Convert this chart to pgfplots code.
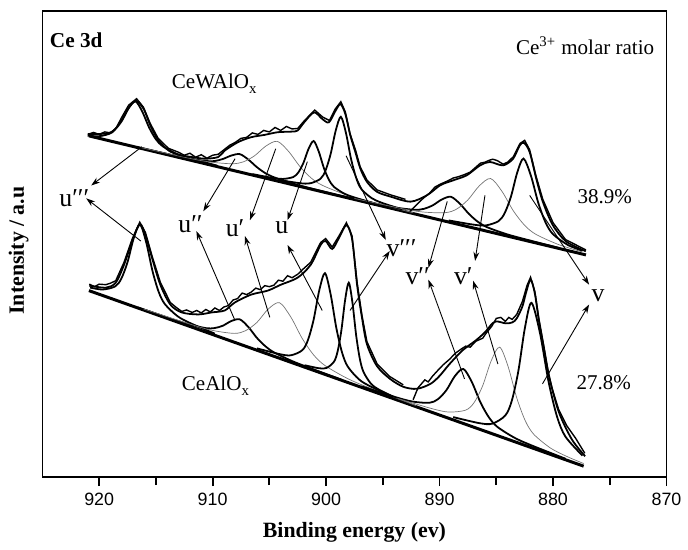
\documentclass[border=0pt]{standalone}
\usepackage{fontspec}
\setmainfont{Liberation Serif}
\setsansfont{Liberation Sans}
\usepackage{pgfplots}
\pgfplotsset{compat=1.18}
\usetikzlibrary{arrows.meta}
\tikzset{
  comp/.style={black, line width=0.9pt, smooth},
  thin/.style={black!55, line width=0.35pt, smooth},
  fit/.style={black, line width=0.9pt, smooth},
  expd/.style={black, line width=0.7pt},
  bgl/.style={black, line width=1.5pt},
  lab/.style={font=\fontsize{13}{13}\selectfont, inner sep=0pt},
  txt/.style={font=\fontsize{10.6}{12}\selectfont, inner sep=0pt},
  arr/.style={-{Stealth[length=4.5pt,width=3pt]}, line width=0.45pt},
}
\begin{document}
\begin{tikzpicture}
\begin{axis}[
  scale only axis, width=314.6pt, height=235pt,
  xmin=870, xmax=925, x dir=reverse,
  ymin=0, ymax=470,
  xtick={870,880,...,920}, minor xtick={875,885,...,915},
  ytick=\empty, xtick pos=bottom,
  tick align=outside,
  major tick length=4.5pt, minor tick length=4pt,
  axis line style={line width=0.9pt},
  every tick/.style={line width=0.9pt, black},
  /pgf/number format/assume math mode=true,
  /pgf/number format/set thousands separator={},
  xticklabel style={font=\sffamily\fontsize{9}{10}\selectfont},
  xlabel={Binding energy (ev)},
  ylabel={Intensity / a.u},
  xlabel style={font=\bfseries\fontsize{11}{12}\selectfont, at={(axis description cs:0.5,-0.119)}, anchor=center},
  ylabel style={font=\bfseries\fontsize{11}{12}\selectfont, at={(axis description cs:-0.038,0.486)}, anchor=center},
  clip=false,
]
\path (axis description cs:-0.068,-0.1426) rectangle (axis description cs:1.0254,1.0234);

% ---------------- upper spectrum: CeWAlOx ----------------
\addplot[bgl] coordinates {(877.1,224) (920.9,344)};
% u'''
\addplot[comp] coordinates {(909.6,314.0)(912.0,321.5)(913.2,326.1)(914.4,333.5)(915.0,340.6)(915.6,352.5)(916.2,368.5)(916.8,378.8)(917.4,371.8)(918.0,359.1)(918.6,350.5)(919.2,346.7)(920.4,345.8)(921.0,346.0)};
% u''
\addplot[comp] coordinates {(898.6,283.2)(901.6,291.8)(903.1,296.5)(904.6,302.3)(905.35,306.4)(906.1,312.5)(906.85,320.1)(907.6,325.6)(908.35,324.2)(909.1,320.7)(909.85,318.6)(910.6,318.7)(912.1,321.2)(913.6,324.7)(916.6,332.5)};
% u'
\addplot[thin] coordinates {(892.3,266.4)(896.3,278.2)(898.3,284.9)(900.3,294.0)(901.3,301.4)(902.3,313.0)(903.3,328.3)(904.3,338.5)(905.3,333.8)(906.3,324.0)(907.3,317.8)(908.3,315.9)(910.3,317.8)(912.3,322.0)(916.3,332.2)};
% u
\addplot[comp] coordinates {(895.7,275.9)(897.5,281.9)(898.4,285.8)(899.3,292.6)(899.75,299.7)(900.2,311.8)(900.65,328.3)(901.1,338.8)(901.55,330.8)(902.0,316.7)(902.45,307.1)(902.9,302.5)(903.8,300.6)(904.7,301.6)(906.5,305.5)};
% v'''
\addplot[comp] coordinates {(893.3,269.9)(895.1,276.6)(896.0,281.4)(896.9,290.5)(897.35,301.7)(897.8,320.7)(898.25,347.0)(898.7,363.2)(899.15,349.4)(899.6,325.7)(900.05,309.1)(900.5,300.7)(901.4,296.2)(902.3,296.3)(904.1,299.5)};
% v''
\addplot[comp] coordinates {(879.4,230.8)(882.6,240.2)(884.2,245.3)(885.8,251.9)(886.6,257.2)(887.4,265.2)(888.2,275.5)(889.0,282.6)(889.8,279.9)(890.6,274.0)(891.4,270.4)(892.2,269.5)(893.8,271.6)(895.4,275.2)(898.6,283.4)};
% v'
\addplot[thin] coordinates {(877.5,227.3)(879.5,234.4)(881.5,244.7)(882.5,253.8)(883.5,268.5)(884.5,288.1)(885.5,301.0)(886.5,293.6)(887.5,279.5)(888.5,270.2)(889.5,266.6)(891.5,267.3)(893.5,271.1)(897.5,280.9)};
% v
\addplot[comp] coordinates {(877.4,228.2)(878.7,234.1)(880.0,244.9)(880.65,256.5)(881.3,276.5)(881.95,303.9)(882.6,321.1)(883.15,307.2)(883.7,283.1)(884.25,266.4)(884.8,258.1)(885.9,253.8)(887.0,254.5)(889.2,258.8)};
% fitted envelope
\addplot[fit] coordinates {(877.11,227.7)(878.86,237.7)(880.03,254.3)(880.90,277.7)(881.48,301)(882.06,327.7)(882.56,337)(882.94,334.3)(883.52,321)(884.40,314.3)(885.56,317.7)(886.43,314.3)(887.60,304.3)(888.77,299.3)(889.93,294.3)(891.09,284.3)(892.55,277.7)(894.30,282.7)(895.52,287.7)(896.40,297.7)(896.98,311)(897.42,327.7)(897.86,344.3)(898.30,366)(898.73,376)(899.17,369.3)(899.75,357.7)(900.33,361)(901.06,367.7)(901.93,357.7)(902.52,349.3)(903.10,348.3)(904.27,347.7)(905.43,345)(906.60,342.7)(907.76,337.7)(908.92,329.3)(909.51,322.7)(910.67,321)(911.84,322.7)(913.01,325)(913.88,329.3)(914.76,339.3)(915.48,354.3)(916.07,371)(916.74,379.3)(917.38,372.7)(917.96,361)(918.84,347.7)(920.00,343.7)(921.02,344.3)};
% measured data
\addplot[expd] coordinates {(877.1,229)(878.9,239.5)(880.0,256.5)(880.9,280)(881.5,303.5)(882.06,330)(882.5,339.5)(882.9,336.5)(883.5,323)(884.0,317.5)(884.4,315.5)(884.9,319)(885.3,320.5)(885.6,319.5)(886.0,317.5)(886.4,316.5)(886.9,311.5)(887.3,307.5)(887.8,305)(888.3,303)(888.8,301.5)(889.3,298.5)(889.9,295.5)(890.4,292.5)(890.9,286)(891.4,281.5)(891.9,276)(892.6,268)};
\addplot[expd] coordinates {(893.0,280)(894.3,284.5)(895.5,289.5)(896.4,299.5)(897.0,313)(897.4,329.5)(897.9,346.5)(898.3,368)(898.7,378.5)(899.2,371)(899.7,359.5)(900.3,363)(901.0,370)(901.9,359.5)(902.5,351.5)(903.0,351)(903.5,353.5)(904.0,349.5)(904.5,352.5)(905.0,348)(905.5,349.5)(906.0,345.5)(906.5,347)(907.0,342.5)(907.5,341.5)(908.0,337.5)(908.5,334.5)(909.0,330)(909.5,325.5)(910.0,324.5)(910.5,321.5)(911.0,325)(911.5,322.5)(912.0,326.5)(912.5,324.5)(913.0,327.5)(913.9,331.5)(914.8,341.5)(915.5,356.5)(916.1,373)(916.7,381.5)(917.4,375)(918.0,363)(918.5,352)(919.0,347)(919.5,348)(920.0,345.5)(920.5,347.5)(921.0,345.5)};

% ---------------- lower spectrum: CeAlOx ----------------
\addplot[bgl] coordinates {(877.3,11) (920.9,188)};
% u'''
\addplot[comp] coordinates {(909.8,144.6)(912.0,155.4)(913.1,162.3)(914.2,174.3)(914.75,186.6)(915.3,207.8)(915.85,236.5)(916.4,254.7)(916.95,241.0)(917.5,216.7)(918.05,200.0)(918.6,192.2)(919.7,189.1)(920.8,191.1)};
% u''
\addplot[comp] coordinates {(898.6,98.0)(901.6,110.7)(903.1,117.5)(904.6,125.8)(905.35,131.9)(906.1,140.4)(906.85,151.3)(907.6,159.0)(908.35,157.4)(909.1,152.6)(909.85,150.2)(910.6,150.2)(912.1,154.1)(913.6,159.4)(916.6,171.1)};
% u'
\addplot[thin] coordinates {(892.1,72.2)(896.1,89.6)(898.1,99.3)(900.1,112.5)(901.1,123.2)(902.1,139.7)(903.1,161.2)(904.1,175.8)(905.1,169.4)(906.1,155.9)(907.1,147.6)(908.1,144.9)(910.1,148.1)(912.1,154.6)(916.1,169.6)};
% u
\addplot[comp] coordinates {(894.1,81.1)(896.1,91.5)(897.1,98.5)(898.1,111.6)(898.6,125.9)(899.1,150.5)(899.6,184.3)(900.1,205.6)(900.6,188.4)(901.1,158.6)(901.6,138.1)(902.1,127.9)(903.1,122.8)(904.1,124.0)(906.1,129.8)};
% v'''
\addplot[comp] coordinates {(894.1,81.1)(895.4,88.6)(896.05,94.2)(896.7,105.9)(897.025,119.2)(897.35,142.9)(897.675,175.7)(898.0,196.0)(898.325,178.4)(898.65,148.2)(898.975,127.1)(899.3,116.4)(899.95,110.1)(900.6,109.7)(901.9,112.8)};
% v''
\addplot[comp] coordinates {(878.9,18.5)(881.9,32.0)(883.4,39.7)(884.9,50.6)(885.65,60.2)(886.4,75.4)(887.15,95.7)(887.9,109.0)(888.65,101.8)(889.4,87.6)(890.15,78.5)(890.9,74.9)(892.4,76.2)(893.9,80.7)(896.9,91.6)};
% v'
\addplot[thin] coordinates {(877.3,13.7)(878.7,20.4)(880.2,29.1)(881.7,43.2)(882.45,56.9)(883.2,80.0)(883.95,111.1)(884.7,131.0)(885.45,117.2)(886.2,92.1)(886.95,75.2)(887.7,67.5)(889.2,65.6)(890.7,69.1)(893.7,79.3)};
% v
\addplot[comp] coordinates {(877.4,21.6)(878.9,40.7)(879.65,61.1)(880.4,96.6)(881.15,145.2)(881.9,175.7)(882.475,150.6)(883.05,107.3)(883.625,77.3)(884.2,62.2)(885.35,53.9)(886.5,54.4)(888.8,60.5)};
% fitted envelope
\addplot[fit] coordinates {(877.17,21)(878.34,38)(879.5,66)(880.38,103)(880.81,130)(881.25,158)(881.6,185)(881.98,199)(882.4,185)(882.70,172)(883.2,160)(883.58,156)(884.16,155)(885.03,157)(885.5,153)(885.91,147)(886.78,138)(887.95,128)(889.12,114)(890.0,102)(890.8,94)(892.0,89)(893.19,91)(894.36,99)(895.52,112)(896.40,134)(896.84,161)(897.27,194)(897.71,240)(898.21,254)(898.87,241)(899.46,230)(900.04,238)(900.48,234)(901.36,214)(902.52,201)(903.98,194)(905.14,188)(906.60,184)(908.05,176)(908.93,168)(910.10,166)(911.26,164)(912.72,166)(913.73,174)(914.61,194)(915.34,221)(915.92,244)(916.42,255)(917.09,238)(917.81,214)(918.54,196)(919.41,191)(920.87,193)};
% measured data
\addplot[expd] coordinates {(877.2,24)(878.0,39)(878.8,52)(879.5,68)(880.1,90)(880.4,105)(880.8,131.5)(881.25,160)(881.6,187)(881.98,201.5)(882.3,193)(882.7,177)(883.2,164)(883.6,159)(883.9,161)(884.2,157)(884.6,161)(885.0,160)(885.4,152)(885.9,145)(886.2,140)(886.8,137)(887.3,131)(887.7,132)(888.1,129)(888.6,125)(889.1,119)(889.7,113)(890.2,107)(890.6,102)(891.0,96)(891.3,98)(891.9,90)(892.33,78)};
\addplot[expd] coordinates {(893.2,93)(894.4,101.5)(895.5,114)(896.4,136.5)(896.84,163)(897.27,196.5)(897.71,243)(898.21,256.5)(898.87,243)(899.46,232)(900.04,240.5)(900.48,236.5)(901.36,216.5)(902.0,210)(902.5,204.5)(903.0,201)(903.4,203)(903.8,197.5)(904.2,198.5)(904.6,193.5)(905.0,192)(905.4,193)(905.8,189)(906.2,190.5)(906.6,186.5)(907.0,184)(907.4,185.5)(907.8,180)(908.2,178.5)(908.6,173)(909.0,171.5)(909.4,168)(909.8,170.5)(910.2,166.5)(910.6,169)(911.0,165.5)(911.4,168)(911.8,166)(912.3,168.5)(912.72,167)(913.2,171)(913.73,176)(914.61,196.5)(915.34,223)(915.92,246.5)(916.42,257)(917.09,240)(917.81,216.5)(918.54,198)(919.0,195.5)(919.41,194)(920.0,194.5)(920.4,192)(920.87,194.5)};

% ---------------- annotations ----------------
\node[anchor=west, inner sep=0pt, font=\bfseries\fontsize{10.7}{12}\selectfont] at (axis cs:924.37,440.5) {Ce 3d};
\node[txt] at (axis cs:877.17,434.5) {Ce\textsuperscript{3+} molar ratio};
\node[txt, anchor=base west] at (axis cs:913.62,392) {CeWAlO\raisebox{-0.5ex}{\fontsize{7.5}{8}\selectfont x}};
\node[txt, anchor=base west] at (axis cs:912.74,87) {CeAlO\raisebox{-0.5ex}{\fontsize{7.5}{8}\selectfont x}};
\node[txt, anchor=base west] at (axis cs:877.87,276) {38.9\%};
\node[txt, anchor=base west] at (axis cs:877.96,88) {27.8\%};

\node[lab] at (axis cs:922.19,281) {u′′′};
\node[lab] at (axis cs:911.95,255) {u′′};
\node[lab] at (axis cs:908.02,251) {u′};
\node[lab] at (axis cs:903.90,251) {u};
\node[lab] at (axis cs:893.35,231) {v′′′};
\node[lab] at (axis cs:891.93,203) {v′′};
\node[lab] at (axis cs:887.91,203) {v′};
\node[lab] at (axis cs:876.03,183) {v};

\draw[arr] (axis cs:916.24,333) -- (axis cs:920.70,294);
\draw[arr] (axis cs:916.33,238) -- (axis cs:921.14,281);
\draw[arr] (axis cs:908.02,321) -- (axis cs:910.82,268);
\draw[arr] (axis cs:908.07,159) -- (axis cs:911.43,248);
\draw[arr] (axis cs:904.44,331) -- (axis cs:906.71,259);
\draw[arr] (axis cs:904.96,161) -- (axis cs:907.15,243);
\draw[arr] (axis cs:901.65,318) -- (axis cs:903.40,259);
\draw[arr] (axis cs:900.34,168) -- (axis cs:903.40,234);
\draw[arr] (axis cs:898.24,324) -- (axis cs:894.74,239);
\draw[arr] (axis cs:897.89,168) -- (axis cs:894.39,228);
\draw[arr] (axis cs:889.32,278) -- (axis cs:890.98,211);
\draw[arr] (axis cs:887.80,99) -- (axis cs:890.98,199);
\draw[arr] (axis cs:886.00,284) -- (axis cs:886.87,218);
\draw[arr] (axis cs:884.86,114) -- (axis cs:887.04,198);
\draw[arr] (axis cs:882.06,284) -- (axis cs:876.82,194);
\draw[arr] (axis cs:880.93,94) -- (axis cs:876.82,174);
\end{axis}
\end{tikzpicture}
\end{document}
